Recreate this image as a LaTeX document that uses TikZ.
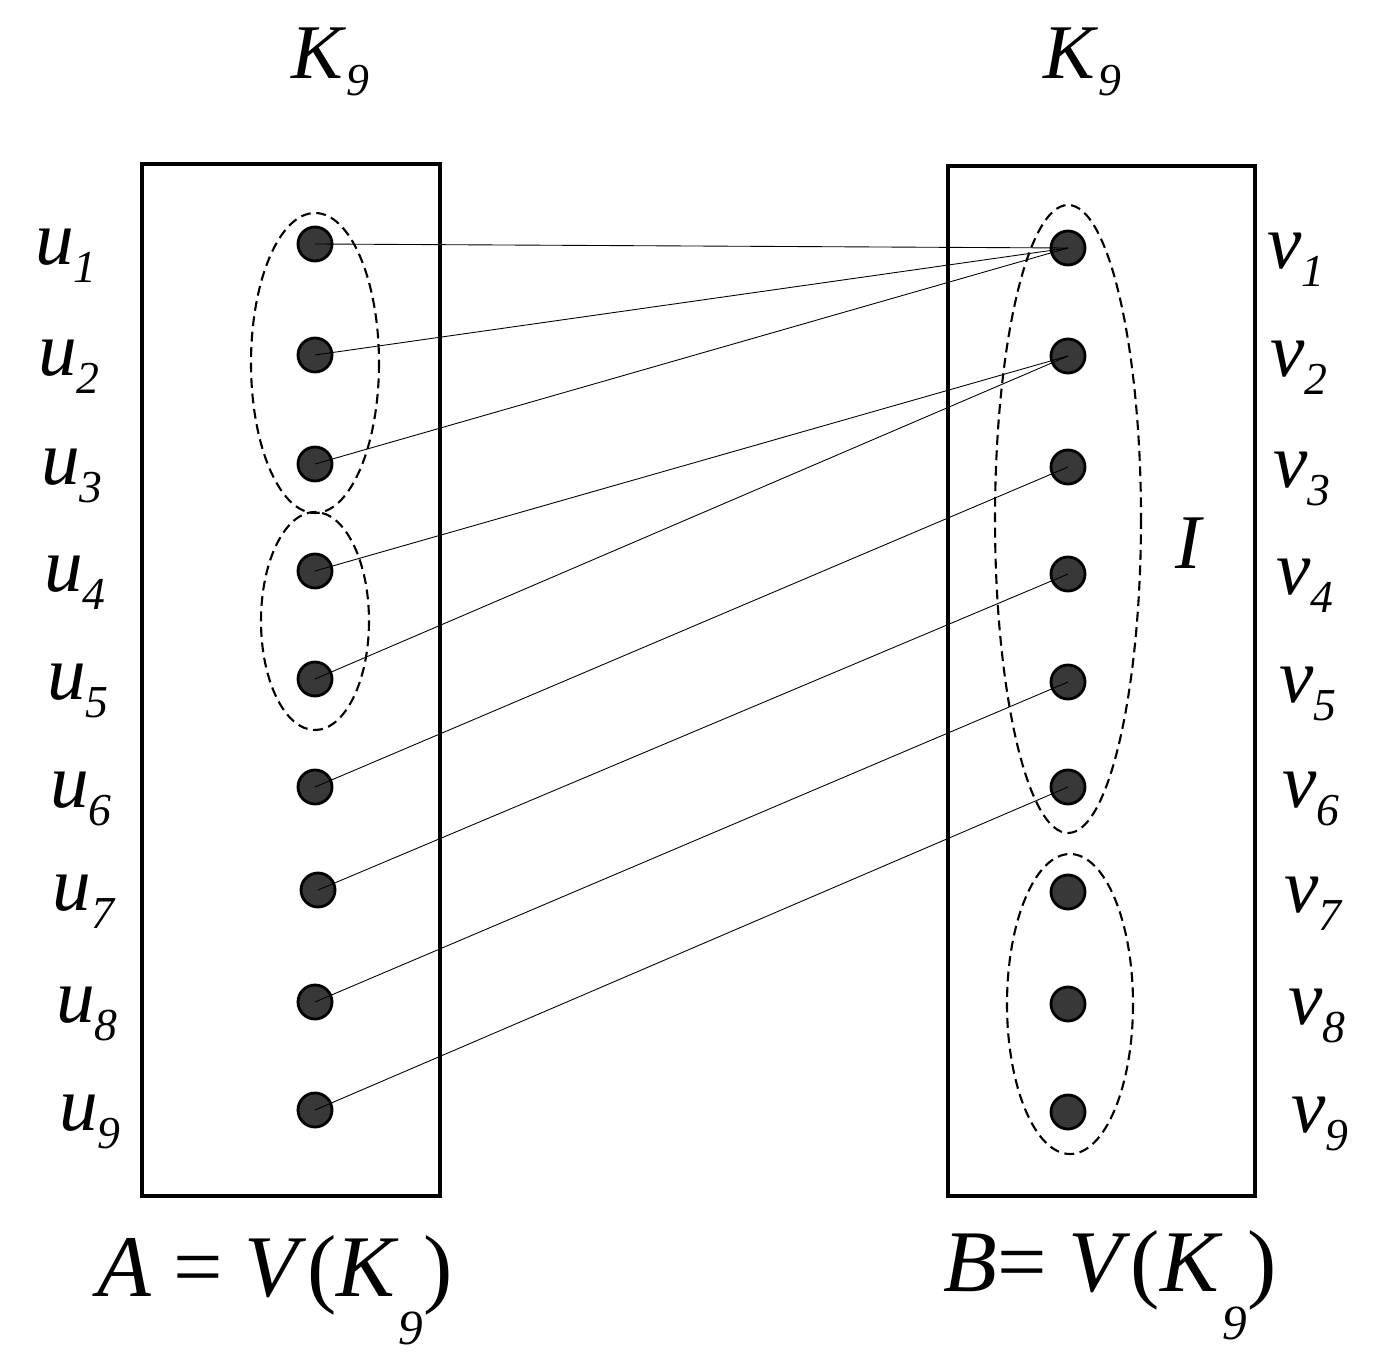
\documentclass[tikz,border=0pt]{standalone}
\usepackage{fontspec}
\setmainfont{Liberation Serif}
\newcommand{\lab}[2]{\textit{#1}\raisebox{-0.5ex}{\fontsize{13}{13}\selectfont\textit{#2}}}
\begin{document}
\begin{tikzpicture}[x=0.01cm,y=-0.01cm,
  dot/.style={circle,fill=black!78,draw=black,line width=0.8pt,minimum size=0.34cm,inner sep=0},
  grp/.style={line width=0.6pt,dash pattern=on 2.8pt off 1.6pt},
  box/.style={line width=0.9pt},
  lbl/.style={font=\fontsize{22}{22}\selectfont},
  edge/.style={line width=0.25pt}]
\useasboundingbox (0,0) rectangle (1376,1361);
\draw[box] (142,164) rectangle (440,1196);
\draw[box] (948,166) rectangle (1255,1196);
\foreach \i/\x/\y in {1/315/244,2/315/355,3/315/464,4/315/571,5/315/679,6/315/787,7/318/890,8/315/1002,9/315/1110}{
  \node[dot] (u\i) at (\x,\y) {};
  \node[lbl] (lu\i) at (63+\i*3,\y+12) {\lab{u}{\i}};
}
\foreach \i/\y in {1/248,2/356,3/467,4/574,5/682,6/787,7/892,8/1004,9/1112}{
  \node[dot] (v\i) at (1068,\y) {};
  \node[lbl] (lv\i) at (1293+\i*3,\y+12) {\lab{v}{\i}};
}
\draw[grp] (315,363) ellipse [x radius=64,y radius=150];
\draw[grp] (315,621) ellipse [x radius=54,y radius=109];
\draw[grp] (1068,519) ellipse [x radius=73,y radius=314];
\draw[grp] (1070,1004) ellipse [x radius=63,y radius=150];
\foreach \a/\b in {1/1,2/1,3/1,4/2,5/2,6/3,7/4,8/5,9/6}{
  \draw[edge] (u\a.center) -- (v\b.center);
}
\node[lbl] (k1) at (330,62) {\lab{K}{9}};
\node[lbl] (k2) at (1082,62) {\lab{K}{9}};
\node[lbl] (I) at (1190,543) {\textit{I}};
\node[lbl,font=\fontsize{25}{25}\selectfont] (A) at (275,1290) {\textit{A} = \textit{V}(\textit{K}\raisebox{-1.2ex}{\fontsize{14}{14}\selectfont\textit{9}})};
\node[lbl,font=\fontsize{25}{25}\selectfont] (B) at (1110,1285) {\textit{B}= \textit{V}(\textit{K}\raisebox{-1.2ex}{\fontsize{14}{14}\selectfont\textit{9}})};
\end{tikzpicture}
\end{document}
